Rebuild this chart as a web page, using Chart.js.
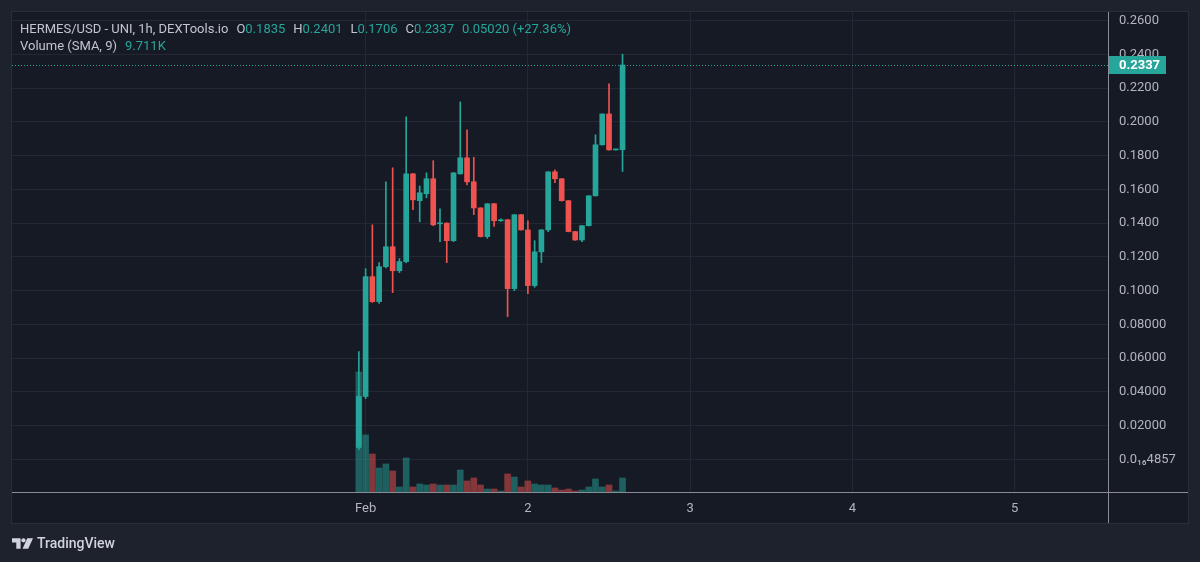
<!DOCTYPE html>
<html>
<head>
<meta charset="utf-8">
<script src="https://cdn.jsdelivr.net/npm/chart.js@4.4.1/dist/chart.umd.min.js"></script>
<style>
  html, body { margin: 0; padding: 0; background: #1e222d; }
  #wrap { position: relative; width: 1200px; height: 562px; overflow: hidden; }
  #myChart { position: absolute; left: 0; top: 0; }
  .legend { position: absolute; left: 20px; font-family: Roboto, "Noto Sans", sans-serif; font-size: 13px; color: #c3c6ce; white-space: nowrap; }
  .legend .v { color: #26a69a; }
  .legend .g { margin-left: 8px; }
  #line1 { top: 21px; }
  #line2 { top: 38px; }
  #brand { position: absolute; left: 12px; top: 535px; display: flex; align-items: center; font-family: Roboto, "Noto Sans", sans-serif; font-size: 14px; font-weight: 500; color: #d1d4dc; }
  #brand svg { margin-right: 4px; }
</style>
</head>
<body>
<div id="wrap">
  <canvas id="myChart" width="1200" height="562"></canvas>
  <div class="legend" id="line1"></div>
  <div class="legend" id="line2"></div>
  <div id="brand">
    <svg width="21" height="11" viewBox="0 0 22 11"><path d="M0 0h9v11h-4.5v-6.5h-4.5z" fill="#d1d4dc"/><circle cx="12" cy="2.2" r="2.2" fill="#d1d4dc"/><path d="M16 0h6l-5 11h-6z" fill="#d1d4dc"/></svg>
    <span>TradingView</span>
  </div>
</div>
<script>
'use strict';

// ------- data (1h candles, first one Jan 31 23:00)
var symbolTitle = 'HERMES/USD - UNI, 1h, DEXTools.io';
var startHour = 23;
var opens  = [0.0071,0.0373,0.1083,0.0935,0.1142,0.1260,0.1118,0.1172,0.1692,0.1533,
              0.1574,0.1663,0.1396,0.1400,0.1296,0.1692,0.1787,0.1645,0.1490,0.1320,
              0.1515,0.1414,0.1420,0.1012,0.1450,0.1360,0.1030,0.1230,0.1360,0.1704,
              0.1663,0.1533,0.1350,0.1300,0.1385,0.1562,0.1864,0.2047,0.1834,0.1835];
var highs  = [0.0639,0.1130,0.1390,0.1166,0.1645,0.1728,0.1190,0.2030,0.1695,0.1620,
              0.1698,0.1770,0.1485,0.1402,0.1700,0.2118,0.1953,0.1790,0.1492,0.1515,
              0.1517,0.1425,0.1422,0.1450,0.1452,0.1414,0.1296,0.1362,0.1704,0.1716,
              0.1665,0.1535,0.1352,0.1385,0.1562,0.1923,0.2047,0.2225,0.1838,0.2401];
var lows   = [0.0060,0.0360,0.0930,0.0925,0.1135,0.0988,0.1107,0.1165,0.1480,0.1408,
              0.1550,0.1385,0.1290,0.1166,0.1290,0.1690,0.1627,0.1450,0.1318,0.1310,
              0.1380,0.1410,0.0846,0.1000,0.1358,0.0982,0.1020,0.1166,0.1350,0.1640,
              0.1530,0.1348,0.1298,0.1290,0.1383,0.1560,0.1862,0.1832,0.1832,0.1706];
var closes = [0.0373,0.1083,0.0935,0.1142,0.1260,0.1118,0.1172,0.1692,0.1538,0.1580,
              0.1663,0.1390,0.1399,0.1296,0.1698,0.1787,0.1645,0.1490,0.1320,0.1515,
              0.1414,0.1420,0.1012,0.1450,0.1360,0.1030,0.1230,0.1360,0.1704,0.1663,
              0.1533,0.1350,0.1300,0.1385,0.1562,0.1864,0.2047,0.1834,0.1835,0.2337];
var volumes = [205400,97700,65100,41100,48000,36000,8600,58300,8600,13700,
               12000,13700,12000,12000,12000,37700,18900,24000,12000,5100,
               5100,1700,30900,25700,8600,18900,13700,12000,12000,6900,
               3400,5100,1700,3400,8600,22300,8600,12000,1700,24000];

var priceTicks = [0,0.02,0.04,0.06,0.08,0.10,0.12,0.14,0.16,0.18,0.20,0.22,0.24,0.26];
var priceTickLabels = ['0.0\u2081\u20864857','0.02000','0.04000','0.06000','0.08000','0.1000',
                       '0.1200','0.1400','0.1600','0.1800','0.2000','0.2200','0.2400','0.2600'];
var timeTickLabels = ['Feb','2','3','4','5'];
var smaLength = 9;

//-------- colors
var upColor = '#26a69a';
var downColor = '#ef5350';
var upVol = 'rgba(38,166,154,0.5)';
var downVol = 'rgba(239,83,80,0.5)';

//-------- build
var last = closes.length - 1;
var bodies = [], wicks = [], vols = [], candleColors = [], volColors = [];
for (var i = 0; i < closes.length; i++) {
    bodies.push({x: i, y: [opens[i], closes[i]]});
    wicks.push({x: i, y: [lows[i], highs[i]]});
    vols.push({x: i, y: volumes[i]});
    var up = closes[i] >= opens[i];
    candleColors.push(up ? upColor : downColor);
    volColors.push(up ? upVol : downVol);
}
var timeTicks = timeTickLabels.map(function (l, k) { return (24 - startHour) + 24 * k; });

//-------- legend
var change = closes[last] - closes[last - 1];
var pct = change / closes[last - 1] * 100;
var sma = 0;
for (var j = last - smaLength + 1; j <= last; j++) { sma += volumes[j]; }
sma = sma / smaLength;
document.getElementById('line1').innerHTML =
    '<span>' + symbolTitle + '</span>' +
    '<span class="g">O<span class="v">' + opens[last].toFixed(4) + '</span></span>' +
    '<span class="g">H<span class="v">' + highs[last].toFixed(4) + '</span></span>' +
    '<span class="g">L<span class="v">' + lows[last].toFixed(4) + '</span></span>' +
    '<span class="g">C<span class="v">' + closes[last].toFixed(4) + '</span></span>' +
    '<span class="g v">' + change.toFixed(5) + ' (' + (pct >= 0 ? '+' : '') + pct.toFixed(2) + '%)</span>';
document.getElementById('line2').innerHTML =
    '<span>Volume (SMA, ' + smaLength + ')</span><span class="g v">' + (sma / 1000).toFixed(3) + 'K</span>';

//-------- pane drawing
var pane = {
    id: 'pane',
    beforeDraw: function (chart) {
        var c = chart.ctx;
        c.save();
        c.fillStyle = '#161a25';
        c.fillRect(12, 12, 1176, 511);
        c.strokeStyle = '#2a2e39';
        c.strokeRect(11.5, 11.5, 1177, 512);
        c.restore();
    },
    beforeDatasetsDraw: function (chart) {
        var c = chart.ctx, a = chart.chartArea;
        var y = Math.round(chart.scales.y.getPixelForValue(closes[last])) + 0.5;
        c.save();
        c.strokeStyle = upColor;
        c.setLineDash([1, 2]);
        c.beginPath();
        c.moveTo(a.left, y);
        c.lineTo(a.right, y);
        c.stroke();
        c.restore();
    },
    afterDraw: function (chart) {
        var c = chart.ctx, a = chart.chartArea;
        c.save();
        c.strokeStyle = '#8a8d96';
        c.beginPath();
        c.moveTo(12, a.bottom + 0.5);
        c.lineTo(1188, a.bottom + 0.5);
        c.moveTo(a.right + 0.5, 12);
        c.lineTo(a.right + 0.5, 523);
        c.stroke();
        var y = Math.round(chart.scales.y.getPixelForValue(closes[last]));
        c.fillStyle = upColor;
        c.fillRect(a.right + 1, y - 9, 57, 18);
        c.fillStyle = '#ffffff';
        c.font = 'bold 13px Roboto, "Noto Sans", sans-serif';
        c.textBaseline = 'middle';
        c.fillText(closes[last].toFixed(4), a.right + 11, y + 1);
        c.restore();
    }
};

var ctx = document.getElementById('myChart').getContext('2d');
var chart = new Chart(ctx, {
    type: 'bar',
    data: {
        datasets: [{
            label: 'volume',
            data: vols,
            yAxisID: 'vol',
            backgroundColor: volColors,
            barThickness: 6,
            grouped: false,
            order: 3
        }, {
            label: 'wick',
            data: wicks,
            yAxisID: 'y',
            backgroundColor: candleColors,
            barThickness: 1,
            grouped: false,
            order: 2
        }, {
            label: 'body',
            data: bodies,
            yAxisID: 'y',
            backgroundColor: candleColors,
            barThickness: 5,
            minBarLength: 1,
            grouped: false,
            order: 1
        }]
    },
    options: {
        responsive: false,
        animation: false,
        events: [],
        layout: { padding: { left: 12, top: 12, right: 12, bottom: 39 } },
        plugins: { legend: { display: false }, tooltip: { enabled: false } },
        scales: {
            x: {
                type: 'linear',
                min: -51.3,
                max: 110.8,
                offset: false,
                grid: { color: '#242834', offset: false, drawTicks: false },
                border: { display: false },
                afterBuildTicks: function (scale) {
                    scale.ticks = timeTicks.map(function (v) { return {value: v}; });
                },
                afterFit: function (scale) {
                    scale.height = 31;
                    scale.paddingLeft = 0;
                    scale.paddingRight = 0;
                },
                ticks: {
                    padding: 9,
                    color: '#b2b5be',
                    font: { family: 'Roboto, "Noto Sans", sans-serif', size: 13 },
                    callback: function (v, i) { return timeTickLabels[i]; }
                }
            },
            y: {
                position: 'right',
                min: -0.0193,
                max: 0.2651,
                grid: { color: '#242834', drawTicks: false },
                border: { display: false },
                afterBuildTicks: function (scale) {
                    scale.ticks = priceTicks.map(function (v) { return {value: v}; });
                },
                afterFit: function (scale) {
                    scale.width = 80;
                    scale.paddingTop = 0;
                    scale.paddingBottom = 0;
                },
                ticks: {
                    padding: 11,
                    crossAlign: 'near',
                    color: '#b2b5be',
                    font: { family: 'Roboto, "Noto Sans", sans-serif', size: 13 },
                    callback: function (v, i) { return priceTickLabels[i]; }
                }
            },
            vol: {
                display: false,
                min: 0,
                max: volumes[0] * 4
            }
        }
    },
    plugins: [pane]
});
</script>
</body>
</html>
